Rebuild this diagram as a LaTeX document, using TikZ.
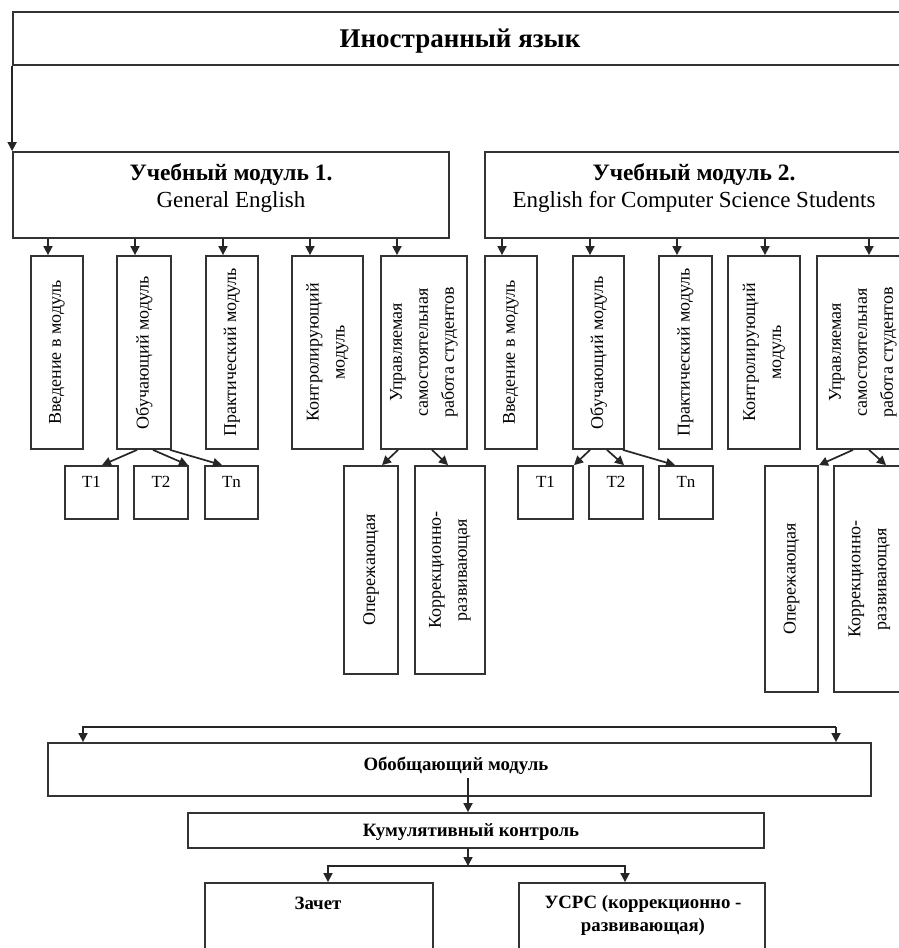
\documentclass[tikz,border=0pt]{standalone}
\usepackage{fontspec}
\setmainfont{Liberation Serif}
\usetikzlibrary{arrows.meta}
\newcommand\mkbox[5]{\node[box,minimum width=#4pt-#2pt,minimum height=#5pt-#3pt] (#1) at ({(#2+#4)/2},{(#3+#5)/2}) {};}
\begin{document}
\begin{tikzpicture}[x=1pt,y=-1pt,
  box/.style={draw=black!80,line width=1.8pt,inner sep=0pt},
  arr/.style={draw=black!85,line width=1.7pt,-{Triangle[length=9pt,width=9pt]}},
  vt/.style={rotate=90,align=center,inner sep=0pt,font=\fontsize{18}{26}\selectfont},
  tt/.style={align=center,inner sep=0pt,font=\fontsize{23}{27}\selectfont},
  bt/.style={align=center,inner sep=0pt,font=\fontsize{18.8}{23}\selectfont\bfseries}]
\useasboundingbox (0,0) rectangle (899,948);
% boxes
\mkbox{top}{13}{12}{903}{65}
\mkbox{m1}{13}{152}{449}{238}
\mkbox{m2}{485}{152}{903}{238}
\mkbox{a1}{31}{256}{83}{449}
\mkbox{a2}{117}{256}{171}{449}
\mkbox{a3}{206}{256}{258}{449}
\mkbox{a4}{292}{256}{363}{449}
\mkbox{a5}{381}{256}{467}{449}
\mkbox{b1}{485}{256}{537}{449}
\mkbox{b2}{573}{256}{624}{449}
\mkbox{b3}{659}{256}{712}{449}
\mkbox{b4}{728}{256}{800}{449}
\mkbox{b5}{817}{256}{905}{449}
\mkbox{t1}{65}{466}{118}{519}
\mkbox{t2}{134}{466}{188}{519}
\mkbox{tn}{205}{466}{258}{519}
\mkbox{u1}{518}{466}{573}{519}
\mkbox{u2}{589}{466}{643}{519}
\mkbox{un}{659}{466}{713}{519}
\mkbox{op1}{344}{466}{398}{674}
\mkbox{ko1}{415}{466}{485}{674}
\mkbox{op2}{765}{466}{818}{692}
\mkbox{ko2}{834}{466}{905}{692}
\mkbox{obob}{48}{743}{871}{796}
\mkbox{kum}{188}{813}{764}{848}
\mkbox{zach}{205}{883}{433}{968}
\mkbox{usrs}{519}{883}{765}{968}
% texts
\node[font=\fontsize{27}{30}\selectfont\bfseries,inner sep=0pt] (ttop) at (460,41) {Иностранный язык};
\node[tt] (tm1) at (231,188) {\textbf{\fontsize{23.5}{27}\selectfont Учебный модуль 1.}\\General English};
\node[tt] (tm2) at (694,188) {\textbf{\fontsize{23.5}{27}\selectfont Учебный модуль 2.}\\English for Computer Science Students};
\node[vt] (ta1) at (a1) {Введение в модуль};
\node[vt] (ta2) at (a2) {Обучающий модуль};
\node[vt] (ta3) at (a3) {Практический модуль};
\node[vt] (ta4) at (a4) {Контролирующий\\модуль};
\node[vt] (ta5) at (a5) {Управляемая\\самостоятельная\\работа студентов};
\node[vt] (tb1) at (b1) {Введение в модуль};
\node[vt] (tb2) at (b2) {Обучающий модуль};
\node[vt] (tb3) at (b3) {Практический модуль};
\node[vt] (tb4) at (b4) {Контролирующий\\модуль};
\node[vt] (tb5) at ([xshift=2pt]b5.center) {Управляемая\\самостоятельная\\работа студентов};
\node[vt] (top1) at (op1) {Опережающая};
\node[vt] (tko1) at (ko1) {Коррекционно-\\развивающая};
\node[vt] (top2) at (op2) {Опережающая};
\node[vt] (tko2) at (ko2) {Коррекционно-\\развивающая};
\foreach \n/\s in {t1/T1,t2/T2,tn/Tn,u1/T1,u2/T2,un/Tn}
  \node[font=\fontsize{17}{20}\selectfont,inner sep=0pt] (l\n) at ([yshift=-17pt]\n.north) {\s};
\node[bt] (tob) at (456,766) {Обобщающий модуль};
\node[bt] (tku) at (471,832) {Кумулятивный контроль};
\node[bt] (tza) at (318,903) {Зачет};
\node[bt] (tus) at (643,915) {УСРС (коррекционно -\\развивающая)};
% connectors
\draw[arr] (top.south west) -- (m1.north west);
\draw[arr] (top.south east) -- (m2.north east);
\foreach \n/\x in {a1/48,a2/135,a3/223,a4/310,a5/397}
  \draw[arr] (m1.south -| \x,0) -- (\n.north -| \x,0);
\foreach \n/\x in {b1/502,b2/590,b3/677,b4/765,b5/869}
  \draw[arr] (m2.south -| \x,0) -- (\n.north -| \x,0);
\draw[arr] (a2.south -| 137,0) -- (t1.north -| 102,0);
\draw[arr] (a2.south -| 153,0) -- (t2.north -| 188,0);
\draw[arr] (a2.south -| 170,0) -- (tn.north -| 222,0);
\draw[arr] (b2.south -| 590,0) -- (u1.north -| 574,0);
\draw[arr] (b2.south -| 607,0) -- (u2.north -| 624,0);
\draw[arr] (b2.south -| 623,0) -- (un.north -| 675,0);
\draw[arr] (a5.south -| 398,0) -- (op1.north -| 382,0);
\draw[arr] (a5.south -| 432,0) -- (ko1.north -| 448,0);
\draw[arr] (b5.south -| 853,0) -- (op2.north -| 819,0);
\draw[arr] (b5.south -| 869,0) -- (ko2.north -| 886,0);
\coordinate (bl) at (83,727);
\coordinate (br) at (836,727);
\draw[arr] (br) -- (bl) -- (obob.north -| bl);
\draw[arr] (br) -- (obob.north -| br);
\coordinate (o1) at (468,778);
\draw[arr] (o1) -- (kum.north -| o1);
\coordinate (j) at (468,866);
\draw[arr] (kum.south -| j) -- (j);
\coordinate (jl) at (328,866);
\coordinate (jr) at (625,866);
\draw[arr] (j) -- (jl) -- (zach.north -| jl);
\draw[arr] (j) -- (jr) -- (usrs.north -| jr);
\end{tikzpicture}
\end{document}
